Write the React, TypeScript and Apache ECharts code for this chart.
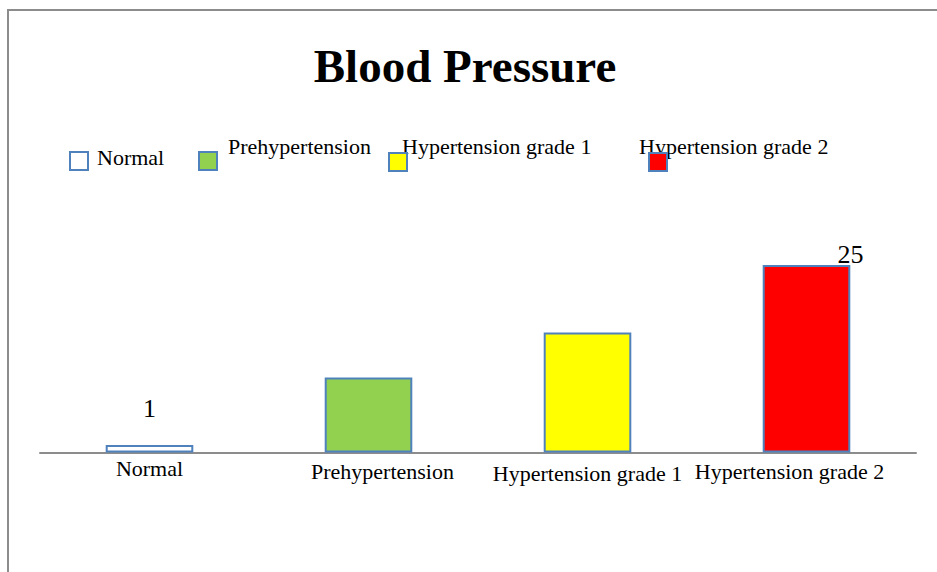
import React, { useEffect, useRef } from "react";
import * as echarts from "echarts";

const categories = ["Normal", "Prehypertension", "Hypertension grade 1", "Hypertension grade 2"];
const values = [1, 10, 16, 25];
const barColors = ["#ffffff", "#92d050", "#ffff00", "#ff0000"];
const shownLabels = [true, false, false, true];

const FONT = "'Liberation Serif', 'DejaVu Serif', serif";
const BORDER = "#4f81bd";

// legend layout (irregular, as in the reference)
const legendBoxes = [
  { bx: 70, by: 152, tx: 97, ty: 157 },
  { bx: 199, by: 152, tx: 228, ty: 146 },
  { bx: 389, by: 153, tx: 402, ty: 146 },
  { bx: 649, by: 153, tx: 639, ty: 146 },
];

// per-category axis label nudges [top, right, bottom, left] padding
const labelPads = [
  [0, 0, 0, 0],
  [3, 0, 0, 28],
  [5, 0, 0, 0],
  [3, 34, 0, 0],
];

export default function App() {
  const ref = useRef<HTMLDivElement>(null);
  useEffect(() => {
    if (!ref.current) return;
    const chart = echarts.init(ref.current, null, { renderer: "svg" });
    const legendGraphics: any[] = [];
    categories.forEach((name, i) => {
      const p = legendBoxes[i];
      legendGraphics.push({
        type: "text",
        x: p.tx,
        y: p.ty,
        style: { text: name, font: `22px ${FONT}`, fill: "#000", verticalAlign: "middle", align: "left" },
        z: 10,
      });
      legendGraphics.push({
        type: "rect",
        shape: { x: p.bx, y: p.by, width: 18, height: 18 },
        style: { fill: barColors[i], stroke: BORDER, lineWidth: 2 },
        z: 11,
      });
    });
    const rich: any = {};
    labelPads.forEach((pad, i) => {
      rich["c" + i] = { fontFamily: FONT, fontSize: 22, color: "#000", padding: pad };
    });
    chart.setOption({
      animation: false,
      title: {
        text: "Blood Pressure",
        left: 460,
        textAlign: "center",
        top: 37,
        textStyle: { fontFamily: FONT, fontSize: 47, fontWeight: "bold", color: "#000" },
      },
      grid: { left: 40, right: 21, top: 227.5, bottom: 119.5, containLabel: false },
      xAxis: {
        type: "category",
        data: categories,
        axisLine: { show: true, lineStyle: { color: "#8c8c8c", width: 2 } },
        axisTick: { show: false },
        axisLabel: {
          fontFamily: FONT,
          fontSize: 22,
          color: "#000",
          margin: 5,
          interval: 0,
          formatter: (v: string, i: number) => `{c${i}|${v}}`,
          rich,
        },
      },
      yAxis: {
        type: "value",
        min: 0,
        max: 30,
        show: false,
        splitLine: { show: false },
      },
      series: [
        {
          type: "bar",
          barWidth: "40%",
          data: values.map((v, i) => ({
            value: v,
            itemStyle: { color: barColors[i], borderColor: BORDER, borderWidth: 2 },
            label: shownLabels[i]
              ? {
                  show: true,
                  position: "top",
                  distance: i === 0 ? 24 : 0,
                  offset: i === 0 ? [0, 0] : [44, 2],
                  fontFamily: FONT,
                  fontSize: 26,
                  color: "#000",
                }
              : { show: false },
          })),
        },
      ],
      graphic: [
        {
          type: "line",
          shape: { x1: 7, y1: 10, x2: 937, y2: 10 },
          style: { stroke: "#8c8c8c", lineWidth: 2 },
        },
        {
          type: "line",
          shape: { x1: 8, y1: 10, x2: 8, y2: 572 },
          style: { stroke: "#8c8c8c", lineWidth: 2 },
        },
        ...legendGraphics,
      ],
    });
    return () => chart.dispose();
  }, []);
  return (
    <div
      ref={ref}
      style={{ position: "fixed", left: 0, top: 0, width: 937, height: 572, background: "#fff" }}
    />
  );
}
